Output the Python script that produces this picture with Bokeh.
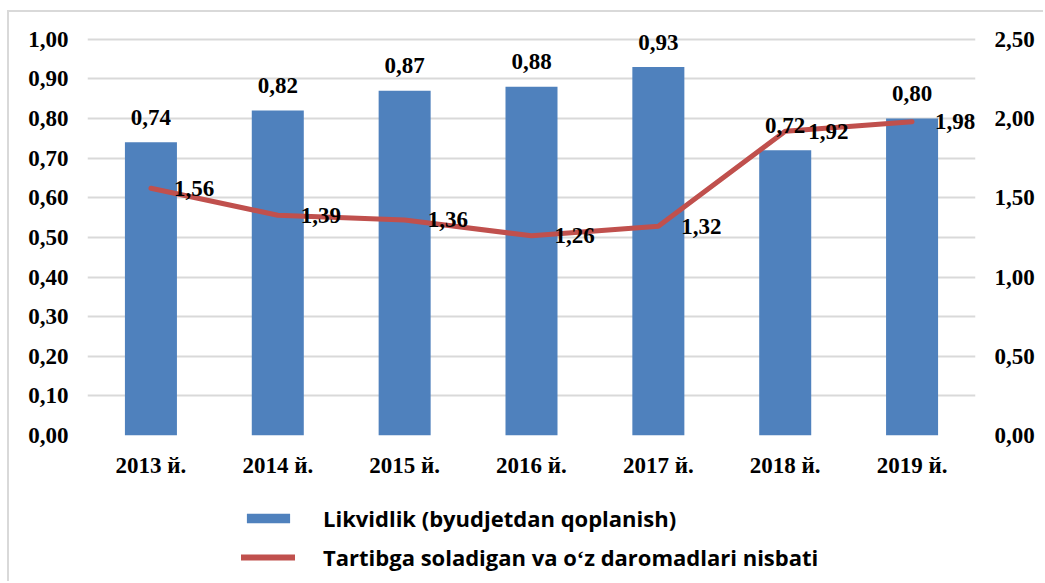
from bokeh.plotting import figure
from bokeh.layouts import column
from bokeh.models import (ColumnDataSource, LinearAxis, Range1d, FixedTicker,
                          LabelSet, Legend, LegendItem)
from bokeh.embed import file_html
from bokeh.resources import INLINE

years = ["2013 й.", "2014 й.", "2015 й.", "2016 й.", "2017 й.", "2018 й.", "2019 й."]
liquidity = [0.74, 0.82, 0.87, 0.88, 0.93, 0.72, 0.80]
ratio = [1.56, 1.39, 1.36, 1.26, 1.32, 1.92, 1.98]
left_ticks = [0.0, 0.1, 0.2, 0.3, 0.4, 0.5, 0.6, 0.7, 0.8, 0.9, 1.0]
right_ticks = [0.0, 0.5, 1.0, 1.5, 2.0, 2.5]
bar_name = "Likvidlik (byudjetdan qoplanish)"
line_name = "Tartibga soladigan va oʻz daromadlari nisbati"

def fmt(v):
    return f"{v:.2f}".replace(".", ",")

src = ColumnDataSource(dict(
    year=years, liq=liquidity, ratio=ratio,
    liq_lbl=[fmt(v) for v in liquidity],
    ratio_lbl=[fmt(v) for v in ratio],
))

BLUE = "#4F81BD"
RED = "#C0504D"
GRID = "#D9D9D9"
SERIF = "Liberation Serif"
HEAD = 1.05  # headroom so the top data label is not clipped

p = figure(x_range=years, y_range=Range1d(0, 1.0 * HEAD), width=1034, height=486,
           output_backend="svg", toolbar_location=None,
           min_border_left=78, min_border_right=68, min_border_top=7,
           min_border_bottom=63)
p.extra_y_ranges = {"right": Range1d(0, 2.5 * HEAD)}
p.outline_line_color = None
p.background_fill_color = "white"
p.border_fill_color = "white"

bars = p.vbar(x="year", top="liq", width=0.41, source=src, fill_color=BLUE,
              line_color=None)
line = p.line(x="year", y="ratio", source=src, y_range_name="right",
              line_color=RED, line_width=5, line_join="round", line_cap="round")

p.xgrid.grid_line_color = None
p.ygrid.grid_line_color = GRID
p.ygrid.grid_line_width = 2
p.ygrid.ticker = FixedTicker(ticks=left_ticks)

def style_axis(ax):
    ax.axis_line_color = None
    ax.major_tick_line_color = None
    ax.minor_tick_line_color = None
    ax.major_tick_out = 0
    ax.major_tick_in = 0
    ax.major_label_text_font = SERIF
    ax.major_label_text_font_style = "bold"
    ax.major_label_text_font_size = "23px"
    ax.major_label_text_color = "black"

ya = p.yaxis[0]
ya.ticker = FixedTicker(ticks=left_ticks)
ya.major_label_overrides = {t: fmt(t) for t in left_ticks}
style_axis(ya)
ya.major_label_standoff = 19

ra = LinearAxis(y_range_name="right", ticker=FixedTicker(ticks=right_ticks))
ra.major_label_overrides = {t: fmt(t) for t in right_ticks}
style_axis(ra)
ra.major_label_standoff = 19
p.add_layout(ra, "right")

xa = p.xaxis[0]
style_axis(xa)
xa.major_label_standoff = 17

bar_labels = LabelSet(x="year", y="liq", text="liq_lbl", source=src,
                      y_offset=25, text_align="center", text_baseline="middle",
                      text_font=SERIF, text_font_style="bold",
                      text_font_size="23px", text_color="black")
line_labels = LabelSet(x="year", y="ratio", text="ratio_lbl", source=src,
                       y_range_name="right", x_offset=23,
                       text_align="left", text_baseline="middle",
                       text_font=SERIF, text_font_style="bold",
                       text_font_size="23px", text_color="black")
p.add_layout(bar_labels)
p.add_layout(line_labels)

# legend panel: a second figure below, with the same series kept off-view
q = figure(x_range=p.x_range, y_range=Range1d(100, 101), width=1034, height=83,
           output_backend="svg", toolbar_location=None,
           min_border_left=0, min_border_right=0, min_border_top=0,
           min_border_bottom=0)
q.axis.visible = False
q.grid.grid_line_color = None
q.outline_line_color = None
qbars = q.vbar(x="year", top="liq", width=0.41, source=src, fill_color=BLUE,
               line_color=None)
qline = q.line(x="year", y="ratio", source=src, line_color=RED, line_width=6,
               line_cap="round")

legend = Legend(items=[LegendItem(label=bar_name, renderers=[qbars]),
                       LegendItem(label=line_name, renderers=[qline])],
                location=(154, 9), orientation="vertical",
                glyph_width=54, glyph_height=12, label_height=30,
                label_standoff=28, spacing=9, padding=0, margin=0,
                border_line_color=None, background_fill_alpha=0,
                label_text_font="Open Sans", label_text_font_style="bold",
                label_text_font_size="22px", label_text_color="black")
q.add_layout(legend, "center")

layout = column(p, q, spacing=0)
layout.styles = {"margin-left": "7px", "margin-top": "10px",
                 "border-left": "2px solid #D9D9D9",
                 "border-top": "2px solid #D9D9D9"}
open("out.html", "w").write(file_html(layout, INLINE))
